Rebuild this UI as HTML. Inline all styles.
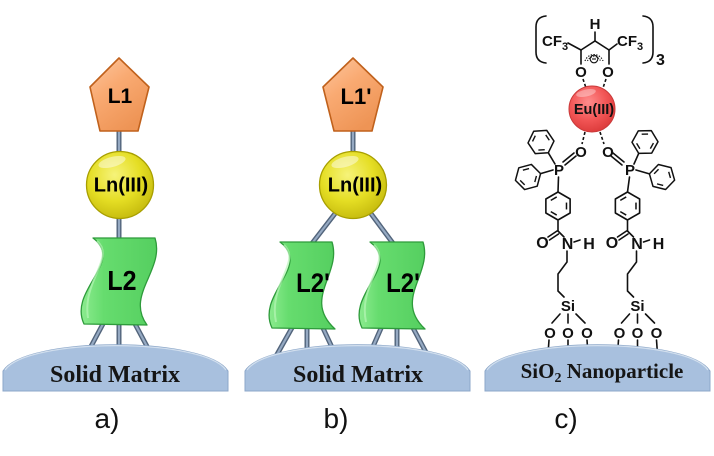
<!DOCTYPE html>
<html>
<head>
<meta charset="utf-8">
<style>
html,body{margin:0;padding:0;background:#fff;}
svg{display:block;}
.chem{font-family:"Liberation Sans",Arial,sans-serif;font-weight:bold;fill:#111;}
.bd{stroke:#111;stroke-width:1.6;fill:none;stroke-linecap:round;}
.ds{stroke:#111;stroke-width:1.6;fill:none;stroke-dasharray:3 2.2;}
</style>
</head>
<body>
<svg width="714" height="456" viewBox="0 0 714 456" xmlns="http://www.w3.org/2000/svg">
<defs>
  <linearGradient id="gPent" x1="0" y1="0" x2="0.6" y2="1">
    <stop offset="0" stop-color="#FDC7A0"/>
    <stop offset="0.45" stop-color="#F9AA72"/>
    <stop offset="1" stop-color="#EE9455"/>
  </linearGradient>
  <radialGradient id="gYel" cx="0.42" cy="0.35" r="0.7">
    <stop offset="0" stop-color="#F6F37A"/>
    <stop offset="0.55" stop-color="#E5DE24"/>
    <stop offset="1" stop-color="#C3B80C"/>
  </radialGradient>
  <radialGradient id="gRed" cx="0.42" cy="0.35" r="0.7">
    <stop offset="0" stop-color="#FF8C8C"/>
    <stop offset="0.55" stop-color="#F25656"/>
    <stop offset="1" stop-color="#DA3838"/>
  </radialGradient>
  <linearGradient id="gGreen" x1="0" y1="0" x2="1" y2="0">
    <stop offset="0" stop-color="#8CEB8F"/>
    <stop offset="0.3" stop-color="#66DC6E"/>
    <stop offset="1" stop-color="#55CF60"/>
  </linearGradient>
  <g id="bz">
    <polygon points="13,0 6.5,11.26 -6.5,11.26 -13,0 -6.5,-11.26 6.5,-11.26" fill="none" stroke="#111" stroke-width="1.5" stroke-linejoin="round"/>
    <line x1="8.42" y1="1.18" x2="5.23" y2="6.7" stroke="#111" stroke-width="1.4"/>
    <line x1="-5.23" y1="6.7" x2="-8.42" y2="1.18" stroke="#111" stroke-width="1.4"/>
    <line x1="-3.19" y1="-7.88" x2="3.19" y2="-7.88" stroke="#111" stroke-width="1.4"/>
  </g>
  <g id="dome">
    <path d="M0,391 L0,371 C22,336 203,336 225,371 L225,391 Z" fill="#A8C0DE" stroke="#8CA7C9" stroke-width="1"/>
    <path d="M2,370 C24,337.5 201,337.5 223,370" fill="none" stroke="#D6E2F0" stroke-width="1.3" opacity="0.9"/>
  </g>
</defs>

<!-- ================= PANEL A ================= -->
<g stroke-linecap="butt">
  <g stroke="#52647B" stroke-width="5">
    <line x1="119" y1="130" x2="119" y2="153"/>
    <line x1="119" y1="217" x2="119" y2="241"/>
    <line x1="104" y1="322" x2="88" y2="352"/>
    <line x1="119" y1="322" x2="119" y2="352"/>
    <line x1="134" y1="322" x2="150" y2="352"/>
  </g>
  <g stroke="#95A9C2" stroke-width="2.2">
    <line x1="119" y1="130" x2="119" y2="153"/>
    <line x1="119" y1="217" x2="119" y2="241"/>
    <line x1="104" y1="322" x2="88" y2="352"/>
    <line x1="119" y1="322" x2="119" y2="352"/>
    <line x1="134" y1="322" x2="150" y2="352"/>
  </g>
</g>
<polygon points="119,58 149,87 138,131 100,131 90,87" fill="url(#gPent)" stroke="#C0611C" stroke-width="1.6" stroke-linejoin="round"/>
<text x="120" y="103" text-anchor="middle" font-family="Liberation Sans, Arial, sans-serif" font-weight="bold" font-size="21" fill="#000">L1</text>
<circle cx="120" cy="185" r="33.5" fill="url(#gYel)" stroke="#A89F00" stroke-width="1.3"/>
<ellipse cx="112" cy="162" rx="14" ry="5" fill="#fff" opacity="0.45" transform="rotate(-15 112 162)"/>
<text x="121" y="191.5" text-anchor="middle" font-family="Liberation Sans, Arial, sans-serif" font-weight="bold" font-size="20" fill="#000">Ln(III)</text>
<path d="M93,238 L155,238 C165,270 125,295 147,325 L84,324 C68,290 125,262 93,238 Z" fill="url(#gGreen)" stroke="#2E9B3B" stroke-width="1.3" stroke-linejoin="round"/>
<path d="M97,241 C116,258 82,280 88,318" fill="none" stroke="#B5F5B5" stroke-width="2" opacity="0.7"/>
<text x="122" y="290" text-anchor="middle" font-family="Liberation Sans, Arial, sans-serif" font-weight="bold" font-size="25" fill="#000" transform="translate(0,-29) scale(1,1.1)">L2</text>
<use href="#dome" transform="translate(3,0)"/>
<text x="115" y="382" text-anchor="middle" font-family="Liberation Serif, 'Times New Roman', serif" font-weight="bold" font-size="24" fill="#151515">Solid Matrix</text>
<text x="107" y="428" text-anchor="middle" font-family="Liberation Sans, Arial, sans-serif" font-size="28" fill="#111">a)</text>

<!-- ================= PANEL B ================= -->
<g stroke-linecap="butt">
  <g stroke="#52647B" stroke-width="5">
    <line x1="353" y1="130" x2="353" y2="153"/>
    <line x1="337" y1="211" x2="310" y2="246"/>
    <line x1="369" y1="211" x2="395" y2="246"/>
    <line x1="293" y1="326" x2="275" y2="358"/>
    <line x1="307" y1="326" x2="307" y2="358"/>
    <line x1="322" y1="326" x2="337" y2="358"/>
    <line x1="382" y1="326" x2="368" y2="358"/>
    <line x1="397" y1="326" x2="397" y2="358"/>
    <line x1="412" y1="326" x2="429" y2="358"/>
  </g>
  <g stroke="#95A9C2" stroke-width="2.2">
    <line x1="353" y1="130" x2="353" y2="153"/>
    <line x1="337" y1="211" x2="310" y2="246"/>
    <line x1="369" y1="211" x2="395" y2="246"/>
    <line x1="293" y1="326" x2="275" y2="358"/>
    <line x1="307" y1="326" x2="307" y2="358"/>
    <line x1="322" y1="326" x2="337" y2="358"/>
    <line x1="382" y1="326" x2="368" y2="358"/>
    <line x1="397" y1="326" x2="397" y2="358"/>
    <line x1="412" y1="326" x2="429" y2="358"/>
  </g>
</g>
<polygon points="353,58 383,87 372,131 334,131 323,87" fill="url(#gPent)" stroke="#C0611C" stroke-width="1.6" stroke-linejoin="round"/>
<text x="356" y="104" text-anchor="middle" font-family="Liberation Sans, Arial, sans-serif" font-weight="bold" font-size="22" fill="#000">L1'</text>
<circle cx="353" cy="185" r="33.5" fill="url(#gYel)" stroke="#A89F00" stroke-width="1.3"/>
<ellipse cx="345" cy="162" rx="14" ry="5" fill="#fff" opacity="0.45" transform="rotate(-15 345 162)"/>
<text x="355" y="191.5" text-anchor="middle" font-family="Liberation Sans, Arial, sans-serif" font-weight="bold" font-size="20" fill="#000">Ln(III)</text>
<path d="M280,242 L332,242 C342,274 302,299 335,329 L272,328 C256,294 312,266 280,242 Z" fill="url(#gGreen)" stroke="#2E9B3B" stroke-width="1.3" stroke-linejoin="round"/>
<path d="M284,245 C302,262 268,284 276,322" fill="none" stroke="#B5F5B5" stroke-width="2" opacity="0.7"/>
<path d="M370,242 L423,242 C433,274 393,299 425,329 L362,328 C346,294 402,266 370,242 Z" fill="url(#gGreen)" stroke="#2E9B3B" stroke-width="1.3" stroke-linejoin="round"/>
<path d="M374,245 C392,262 358,284 366,322" fill="none" stroke="#B5F5B5" stroke-width="2" opacity="0.7"/>
<text x="313" y="292" text-anchor="middle" font-family="Liberation Sans, Arial, sans-serif" font-weight="bold" font-size="24" fill="#000" transform="translate(0,-29.2) scale(1,1.1)">L2'</text>
<text x="403" y="292" text-anchor="middle" font-family="Liberation Sans, Arial, sans-serif" font-weight="bold" font-size="24" fill="#000" transform="translate(0,-29.2) scale(1,1.1)">L2'</text>
<use href="#dome" transform="translate(245,0)"/>
<text x="358" y="382" text-anchor="middle" font-family="Liberation Serif, 'Times New Roman', serif" font-weight="bold" font-size="24" fill="#151515">Solid Matrix</text>
<text x="336" y="428" text-anchor="middle" font-family="Liberation Sans, Arial, sans-serif" font-size="28" fill="#111">b)</text>

<!-- ================= PANEL C ================= -->
<path class="bd" d="M546,16 Q536,17 536,27 L536,52 Q536,62 546,63"/>
<path class="bd" d="M643,16 Q653,17 653,27 L653,52 Q653,62 643,63"/>
<text class="chem" x="656" y="65" style="font-size:16px">3</text>
<text class="chem" x="595" y="29" text-anchor="middle" style="font-size:15px">H</text>
<line class="bd" x1="595" y1="32" x2="595" y2="41"/>
<polyline class="bd" points="581,50 595,41 609,50"/>
<line class="bd" x1="581" y1="50" x2="568" y2="43"/>
<line class="bd" x1="609" y1="50" x2="617" y2="44"/>
<text class="chem" x="542" y="46" style="font-size:15px">CF</text><text class="chem" x="562" y="50" style="font-size:11px">3</text>
<text class="chem" x="617" y="46" style="font-size:15px">CF</text><text class="chem" x="637" y="50" style="font-size:11px">3</text>
<line class="bd" x1="581" y1="50" x2="581" y2="64"/>
<line class="bd" x1="609" y1="50" x2="609" y2="64"/>
<path d="M585,61 A9.5,9.5 0 0 1 603,61" fill="none" stroke="#111" stroke-width="1.1" stroke-dasharray="1.4 1.4"/>
<path d="M587.5,61 A7,7 0 0 1 600.5,61" fill="none" stroke="#111" stroke-width="1" stroke-dasharray="1.2 1.3"/>
<circle cx="594" cy="59" r="3.8" fill="none" stroke="#111" stroke-width="1.1"/>
<line x1="592" y1="59" x2="596" y2="59" stroke="#111" stroke-width="1.1"/>
<text class="chem" x="581" y="77" text-anchor="middle" style="font-size:15px">O</text>
<text class="chem" x="608" y="77" text-anchor="middle" style="font-size:15px">O</text>
<line class="ds" x1="583" y1="79" x2="586" y2="88"/>
<line class="ds" x1="606" y1="79" x2="603" y2="88"/>
<circle cx="592" cy="109" r="23" fill="url(#gRed)" stroke="#C93A3A" stroke-width="1"/>
<ellipse cx="586" cy="93" rx="10" ry="3.5" fill="#fff" opacity="0.35" transform="rotate(-12 586 93)"/>
<text x="594" y="114" text-anchor="middle" font-family="Liberation Sans, Arial, sans-serif" font-weight="bold" font-size="14.5" fill="#111">Eu(III)</text>
<line class="ds" x1="585" y1="132" x2="582" y2="144"/>
<line class="ds" x1="600" y1="132" x2="604" y2="144"/>
<text class="chem" x="581" y="157" text-anchor="middle" style="font-size:15px">O</text>
<text class="chem" x="608" y="157" text-anchor="middle" style="font-size:15px">O</text>
<line class="bd" x1="563" y1="162" x2="574" y2="153"/>
<line class="bd" x1="565" y1="165" x2="576" y2="156"/>
<text class="chem" x="559" y="175" text-anchor="middle" style="font-size:15px">P</text>
<line class="bd" x1="555" y1="164" x2="548.3" y2="152.8"/>
<use href="#bz" transform="translate(541,142) rotate(56)"/>
<line class="bd" x1="553" y1="170" x2="540.6" y2="173.6"/>
<use href="#bz" transform="translate(528,177) rotate(-15)"/>
<line class="bd" x1="558.5" y1="177" x2="558" y2="192"/>
<use href="#bz" transform="translate(558,206) rotate(90) scale(1.077)"/>
<line class="bd" x1="613" y1="153" x2="624" y2="162"/>
<line class="bd" x1="611" y1="156" x2="622" y2="165"/>
<text class="chem" x="630" y="175" text-anchor="middle" style="font-size:15px">P</text>
<line class="bd" x1="634" y1="164" x2="638.7" y2="153.4"/>
<use href="#bz" transform="translate(645,142) rotate(119)"/>
<line class="bd" x1="636" y1="170" x2="649.4" y2="173.9"/>
<use href="#bz" transform="translate(662,177) rotate(194)"/>
<line class="bd" x1="629.5" y1="177" x2="627.5" y2="192"/>
<use href="#bz" transform="translate(627.5,206) rotate(90) scale(1.077)"/>

<g id="arm">
  <line class="bd" x1="558" y1="221" x2="558" y2="231"/>
  <line class="bd" x1="557" y1="231" x2="548" y2="237"/>
  <line class="bd" x1="558.5" y1="234" x2="549.5" y2="240"/>
  <line class="bd" x1="558" y1="231" x2="564" y2="237"/>
  <text class="chem" x="542.5" y="248" text-anchor="middle" style="font-size:16px">O</text>
  <text class="chem" x="567.5" y="249" text-anchor="middle" style="font-size:16px">N</text>
  <line class="bd" x1="574" y1="242" x2="580" y2="240"/>
  <text class="chem" x="589" y="249" text-anchor="middle" style="font-size:16px">H</text>
  <polyline class="bd" points="567,251 567,262 558,274 558,291 564,297"/>
  <text class="chem" x="568" y="311" text-anchor="middle" style="font-size:15px">Si</text>
  <line class="bd" x1="560" y1="314" x2="552" y2="323"/>
  <line class="bd" x1="568" y1="314" x2="568" y2="323"/>
  <line class="bd" x1="576" y1="314" x2="585" y2="323"/>
  <text class="chem" x="550" y="338" text-anchor="middle" style="font-size:15px">O</text>
  <text class="chem" x="568" y="338" text-anchor="middle" style="font-size:15px">O</text>
  <text class="chem" x="587" y="338" text-anchor="middle" style="font-size:15px">O</text>
  <line class="bd" x1="549" y1="340" x2="548" y2="354"/>
  <line class="bd" x1="568" y1="340" x2="568" y2="352"/>
  <line class="bd" x1="587" y1="340" x2="588" y2="354"/>
</g>
<use href="#arm" transform="translate(69.5,0)"/>

<use href="#dome" transform="translate(485,0)"/>
<text x="602" y="378" text-anchor="middle" font-family="Liberation Serif, 'Times New Roman', serif" font-weight="bold" font-size="21" fill="#151515">SiO<tspan font-size="14" dy="4">2</tspan><tspan dy="-4"> Nanoparticle</tspan></text>
<text x="566" y="428" text-anchor="middle" font-family="Liberation Sans, Arial, sans-serif" font-size="28" fill="#111">c)</text>
</svg>
</body>
</html>
